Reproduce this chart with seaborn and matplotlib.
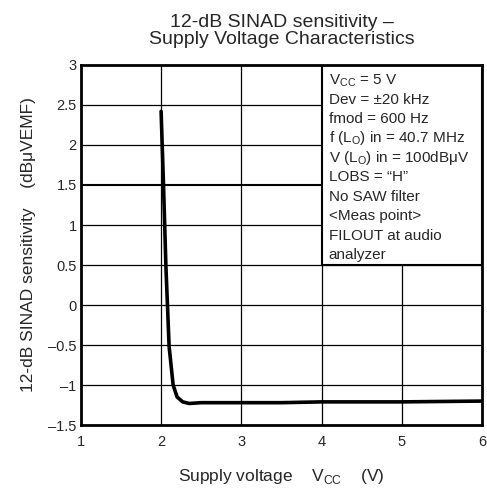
import matplotlib.pyplot as plt
import seaborn as sns
import pandas as pd
from matplotlib.patches import Rectangle

# Datos
vcc = [2.0, 2.03, 2.06, 2.10, 2.15, 2.20, 2.27, 2.35, 2.5, 3.0, 3.5, 4.0, 5.0, 6.0]
sinad = [2.42, 1.5, 0.48, -0.52, -1.0, -1.15, -1.21, -1.23, -1.22, -1.22, -1.22, -1.21, -1.21, -1.2]

x_ticks = [1, 2, 3, 4, 5, 6]
y_ticks = [-1.5, -1, -0.5, 0, 0.5, 1, 1.5, 2, 2.5, 3]
y_tick_labels = ['–1.5', '–1', '–0.5', '0', '0.5', '1', '1.5', '2', '2.5', '3']

condiciones = [
    'V$_{\\mathregular{CC}}$ = 5 V',
    'Dev = ±20 kHz',
    'fmod = 600 Hz',
    'f (L$_{\\mathregular{O}}$) in = 40.7 MHz',
    'V (L$_{\\mathregular{O}}$) in = 100dBμV',
    'LOBS = “H”',
    'No SAW filter',
    '<Meas point>',
    'FILOUT at audio',
    'analyzer',
]

sns.set_style('white')
plt.rcParams['font.family'] = ['Liberation Sans', 'DejaVu Sans']
plt.rcParams['mathtext.fontset'] = 'custom'
plt.rcParams['mathtext.rm'] = 'Liberation Sans'

fig = plt.figure(figsize=(4.87, 4.92), dpi=100)
ax = fig.add_axes([0.166, 0.136, 0.824, 0.732])

df = pd.DataFrame({'vcc': vcc, 'sinad': sinad})

# Cuadrícula
for xv in x_ticks[1:-1]:
    ax.axvline(xv, color='black', lw=0.9, zorder=1)
for yv in y_ticks[1:-1]:
    ax.axhline(yv, color='black', lw=1.5 if yv == 1.5 else 0.9, zorder=1)

# Cuadro de condiciones de medida
ax.add_patch(Rectangle((4, 0.5), 2, 2.5, facecolor='white', edgecolor='black', lw=1.5, zorder=2))
for i, linea in enumerate(condiciones):
    ax.text(4.09, 2.81 - i * 0.243, linea, fontsize=11, va='center', ha='left', zorder=3)

sns.lineplot(data=df, x='vcc', y='sinad', color='black', lw=2.6, ax=ax, zorder=4)

ax.set_xlim(1, 6)
ax.set_ylim(-1.5, 3)
ax.set_xticks(x_ticks)
ax.set_yticks(y_ticks, y_tick_labels)
ax.tick_params(length=0, labelsize=10.5)
ax.tick_params(axis='x', pad=7)
ax.tick_params(axis='y', pad=3)
for s in ax.spines.values():
    s.set_color('black')
    s.set_linewidth(2)

ax.set_xlabel('Supply voltage    V$_{\\mathregular{CC}}$    (V)', fontsize=12.5, labelpad=13)
ax.set_ylabel('12-dB SINAD sensitivity    (dBμVEMF)', fontsize=12.5, labelpad=9)
ax.set_title('12-dB SINAD sensitivity –\nSupply Voltage Characteristics', fontsize=14, pad=15, linespacing=1.0)

fig.savefig('out.png', dpi=100)
